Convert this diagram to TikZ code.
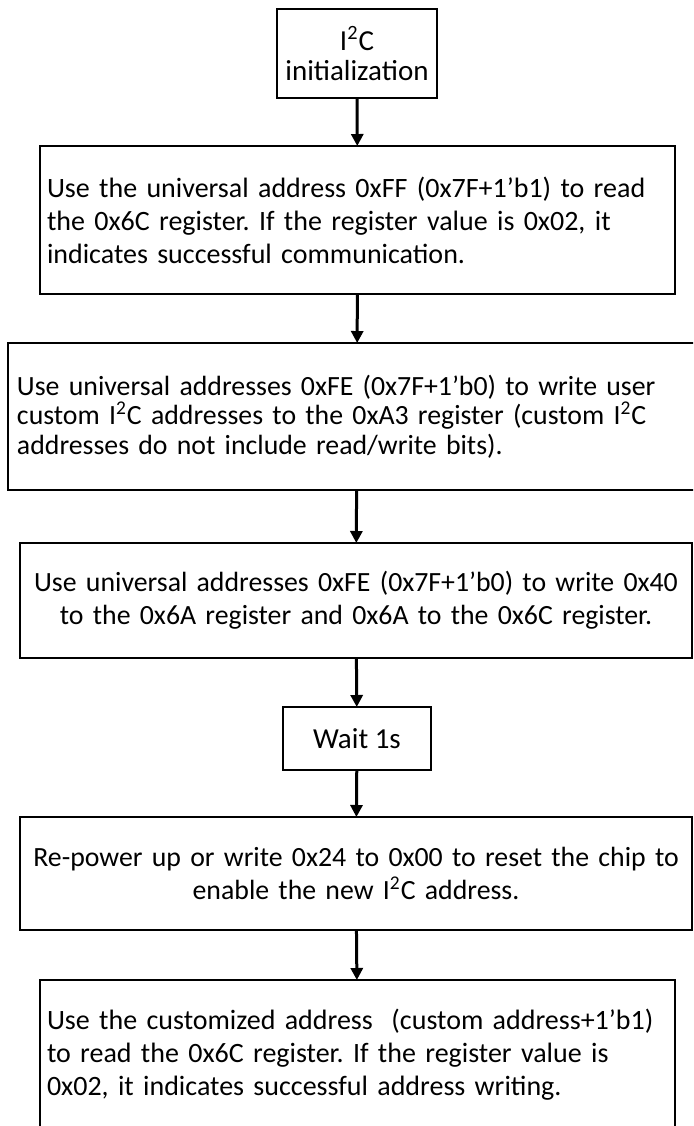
\documentclass[tikz,border=0pt]{standalone}
\usepackage{fontspec}
\setmainfont{Carlito}
\usetikzlibrary{arrows.meta,positioning}
\frenchspacing

\begin{document}
\begin{tikzpicture}[x=0.5pt, y=-0.5pt,
    box/.style={draw, line width=1pt, inner sep=0pt, outer sep=0pt},
    flow/.style={-{Triangle[length=6pt, width=6pt]}, line width=1.5pt}]
    \useasboundingbox (0, 0) rectangle (693, 1126);
    \clip (0, 0) rectangle (693, 1126);
    \node[box, minimum width=80pt, minimum height=44.5pt, align=center,
        font=\fontsize{14.5}{15}\selectfont] (init) at (357, 53.5)
        {I\textsuperscript{2}C\\initialization};
    \node[box, minimum height=74pt, text width=310.5pt, inner xsep=3.5pt, align=left,
        font=\fontsize{14}{16.5}\selectfont] (readcheck) at (357.5, 220)
        {Use the universal address 0xFF (0x7F+1’b1) to read\\
         the 0x6C register. If the register value is 0x02, it\\
         indicates successful communication.};
    \node[box, line width=1.2pt, minimum height=73.5pt, text width=340pt, inner xsep=4.5pt, align=left,
        font=\fontsize{13.9}{14.8}\selectfont] (writeaddr) at (357, 416.5)
        {Use universal addresses 0xFE (0x7F+1’b0) to write user\\
         custom I\textsuperscript{2}C addresses to the 0xA3 register (custom I\textsuperscript{2}C\\
         addresses do not include read/write bits).};
    \node[box, line width=1.2pt, minimum height=57.5pt, text width=330pt, inner xsep=3pt, align=center,
        font=\fontsize{13.9}{16.5}\selectfont] (unlock) at (356, 600.5)
        {Use universal addresses 0xFE (0x7F+1’b0) to write 0x40\\
         to the 0x6A register and 0x6A to the 0x6C register.};
    \node[box, minimum width=74pt, minimum height=31.5pt,
        font=\fontsize{14.5}{15}\selectfont] (wait) at (357, 738.5) {Wait 1s};
    \node[box, line width=1.2pt, minimum height=56.5pt, text width=330pt, inner xsep=3pt, align=center,
        font=\fontsize{13.9}{16.5}\selectfont] (reset) at (356, 873.5)
        {Re-power up or write 0x24 to 0x00 to reset the chip to\\
         enable the new I\textsuperscript{2}C address.};
    \node[box, minimum height=75pt, text width=310.5pt, inner xsep=3.5pt, align=left,
        font=\fontsize{14}{16.5}\selectfont] (verify) at (357.5, 1055)
        {Use the customized address \ (custom address+1’b1)\\
         to read the 0x6C register. If the register value is\\
         0x02, it indicates successful address writing.};
    \draw[flow] (init) -- (readcheck);
    \draw[flow] (readcheck) -- (writeaddr);
    \draw[flow] (writeaddr) -- (unlock);
    \draw[flow] (unlock) -- (wait);
    \draw[flow] (wait) -- (reset);
    \draw[flow] (reset) -- (verify);
\end{tikzpicture}
\end{document}
